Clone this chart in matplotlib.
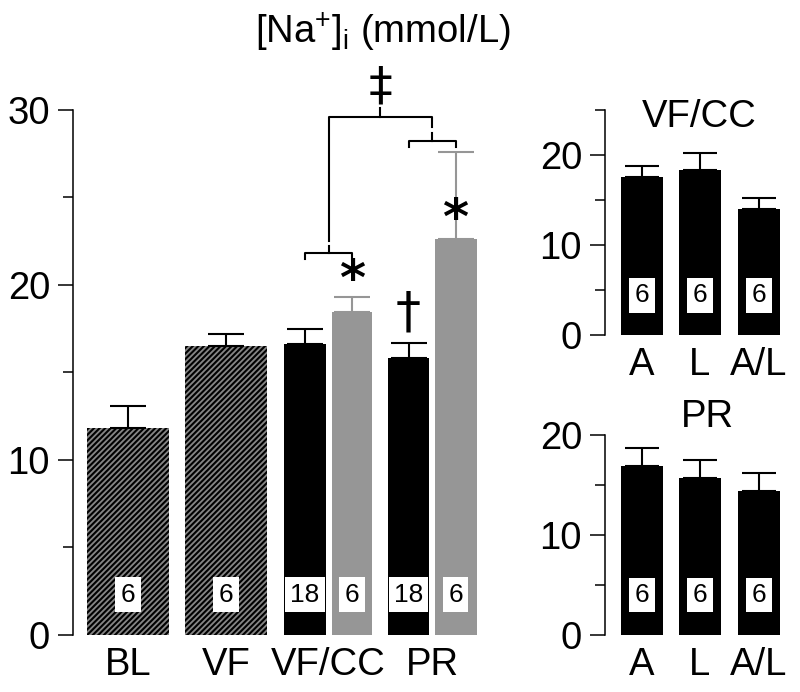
import matplotlib.pyplot as plt
import numpy as np

plt.rcParams['font.family'] = ['Liberation Sans', 'DejaVu Sans']
plt.rcParams['mathtext.fontset'] = 'custom'
plt.rcParams['mathtext.rm'] = 'Liberation Sans'
plt.rcParams['hatch.linewidth'] = 1.5
plt.rcParams['hatch.color'] = 'black'

# main panel data
groups = ['BL', 'VF', 'VF/CC', 'PR']
main_means = [11.8, 16.5, 16.6, 18.45, 15.8, 22.6]
main_err = [1.3, 0.7, 0.9, 0.85, 0.9, 5.0]
main_n = ['6', '6', '18', '6', '18', '6']

# small panels (A, L, A/L)
sub_labels = ['A', 'L', 'A/L']
vfcc_means = [17.55, 18.3, 14.0]
vfcc_err = [1.25, 1.9, 1.2]
vfcc_n = ['6', '6', '6']
pr_means = [16.9, 15.7, 14.4]
pr_err = [1.8, 1.8, 1.8]
pr_n = ['6', '6', '6']

GREY = '#969696'
FS = 27.5
NFS = 19

fig = plt.figure(figsize=(8, 6.92), dpi=100)

# ---- main panel ----
ax = fig.add_axes([0.09125, 0.08237, 0.52125, 0.8219])
ax.set_xlim(0, 417)
ax.set_ylim(0, 32.5)

group_x = [55, 153, 255.5, 359]
off = 23.5
xs = [group_x[0], group_x[1], group_x[2] - off, group_x[2] + off,
      group_x[3] - off, group_x[3] + off]
widths = [82, 82, 42, 40, 41, 42]
colors = ['#858585', '#858585', 'black', GREY, 'black', GREY]
hatches = ['//////', '//////', None, None, None, None]
ecolors = ['black', 'black', 'black', GREY, 'black', GREY]

for x, m, e, w, c, h, ec, n in zip(xs, main_means, main_err, widths,
                                   colors, hatches, ecolors, main_n):
    ax.bar(x, m, width=w, color=c, hatch=h, edgecolor='black', linewidth=0)
    ax.errorbar(x, m, yerr=[[0], [e]], color=ec, capsize=13, elinewidth=1.5,
                capthick=1.5, fmt='none')
    ax.text(x, 2.3, n, ha='center', va='center', fontsize=NFS,
            bbox=dict(boxstyle='square,pad=0.2', fc='white', ec='none'))

# significance marks
ax.text(xs[3], 20.2, '*', ha='center', va='center', fontsize=36,
        fontweight='bold', family='DejaVu Sans')
ax.text(xs[5], 23.7, '*', ha='center', va='center', fontsize=36,
        fontweight='bold', family='DejaVu Sans')
ax.text(xs[4], 18.4, '\u2020', ha='center', va='center', fontsize=36,
        family='DejaVu Sans')

# brackets
lw = 1.5
ax.plot([xs[2], xs[2], xs[3], xs[3]], [21.5, 21.83, 21.83, 21.5], color='black', lw=lw)
ax.plot([group_x[2], group_x[2]], [21.83, 22.2], color='black', lw=lw)
ax.plot([xs[4], xs[4], xs[5], xs[5]], [27.9, 28.2, 28.2, 27.9], color='black', lw=lw)
ax.plot([group_x[3], group_x[3]], [28.2, 28.7], color='black', lw=lw)
ax.plot([group_x[2], group_x[2], group_x[3], group_x[3]], [22.5, 29.6, 29.6, 29.0],
        color='black', lw=lw)
mid = (group_x[2] + group_x[3]) / 2
ax.plot([mid, mid], [29.6, 30.1], color='black', lw=lw)
ax.text(mid, 31.3, '\u2021', ha='center', va='center', fontsize=34,
        family='DejaVu Sans')


def style_axis(a, top, major, minor):
    for s in ['top', 'right', 'bottom']:
        a.spines[s].set_visible(False)
    a.spines['left'].set_bounds(0, top)
    a.spines['left'].set_linewidth(1.1)
    a.set_yticks(major)
    a.set_yticks(minor, minor=True)
    a.tick_params(axis='y', which='major', length=10.5, width=1.1, pad=6,
                  labelsize=FS)
    a.tick_params(axis='y', which='minor', length=7, width=1.1)
    a.tick_params(axis='x', length=0, pad=9, labelsize=FS)


style_axis(ax, 30, [0, 10, 20, 30], [5, 15, 25])
ax.set_xticks(group_x)
ax.set_xticklabels(groups)

fig.text(0.479, 0.938, r'[Na$^{+}$]$_{\mathrm{i}}$ (mmol/L)', ha='center',
         va='baseline', fontsize=FS)


# ---- small panels ----
def small_panel(rect, means, errs, ns, top, title, title_xy):
    a = fig.add_axes(rect)
    a.set_xlim(0, 190)
    a.set_ylim(0, top)
    sx = [37, 95, 154]
    for x, m, e, n in zip(sx, means, errs, ns):
        a.bar(x, m, width=42, color='black', linewidth=0)
        a.errorbar(x, m, yerr=[[0], [e]], color='black', capsize=12,
                   elinewidth=1.5, capthick=1.5, fmt='none')
        a.text(x, (4.4 if top == 25 else 4.0), n, ha='center', va='center',
               fontsize=NFS,
               bbox=dict(boxstyle='square,pad=0.2', fc='white', ec='none'))
    style_axis(a, top, [0, 10, 20], [5, 15, 25][:3 if top == 25 else 2])
    a.set_xticks(sx)
    a.set_xticklabels(sub_labels)
    a.text(title_xy[0], title_xy[1], title, ha='center', va='center',
           fontsize=FS)
    return a


small_panel([0.75625, 0.5159, 0.2375, 0.3251], vfcc_means, vfcc_err, vfcc_n,
            25, 'VF/CC', (94, 24.2))
small_panel([0.75625, 0.08237, 0.2375, 0.289], pr_means, pr_err, pr_n,
            20, 'PR', (102, 21.8))

plt.savefig('out.png', dpi=100)
plt.close(fig)
